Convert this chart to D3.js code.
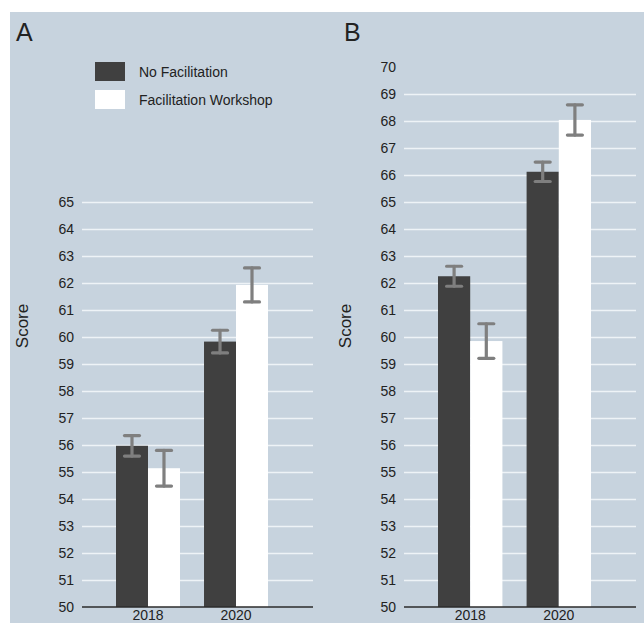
<!DOCTYPE html>
<html>
<head>
<meta charset="utf-8">
<script src="https://cdn.jsdelivr.net/npm/d3@7"></script>
<style>
  body { margin: 0; background: #fff; }
  svg { display: block; font-family: "Liberation Sans", Arial, sans-serif; }
</style>
</head>
<body>
<div id="chart"></div>
<script>
// chart values
var years = ['2018', '2020'];
var groups = ['No Facilitation', 'Facilitation Workshop'];
var groupColors = ['#404040', '#ffffff'];

var aNoFac = [55.97, 59.83];
var aNoFacErr = [0.38, 0.42];
var aWorkshop = [55.14, 61.93];
var aWorkshopErr = [0.66, 0.63];
var aTicks = [50, 51, 52, 53, 54, 55, 56, 57, 58, 59, 60, 61, 62, 63, 64, 65];

var bNoFac = [62.25, 66.12];
var bNoFacErr = [0.37, 0.36];
var bWorkshop = [59.85, 68.04];
var bWorkshopErr = [0.64, 0.56];
var bTicks = [50, 51, 52, 53, 54, 55, 56, 57, 58, 59, 60, 61, 62, 63, 64, 65, 66, 67, 68, 69, 70];

var W = 644, H = 623;
var svg = d3.select('#chart').append('svg')
    .attr('width', W)
    .attr('height', H);

svg.append('rect')
    .attr('x', 10).attr('y', 12)
    .attr('width', W - 10).attr('height', H - 12)
    .attr('fill', '#c7d3de');

function draw_panel(opts) {
    var g = svg.append('g');
    var y = d3.scaleLinear()
        .domain([opts.ticks[0], opts.ticks[opts.ticks.length - 1]])
        .range([607, 607 - 27 * (opts.ticks[opts.ticks.length - 1] - opts.ticks[0])]);
    var x = d3.scaleBand()
        .domain(years)
        .range([opts.left + 34, opts.right - 45])
        .paddingInner(0.273)
        .paddingOuter(0);
    var x1 = d3.scaleBand()
        .domain(groups)
        .range([0, x.bandwidth()]);

    // y axis with gridlines
    var yAxis = d3.axisLeft(y)
        .tickValues(opts.ticks)
        .tickSizeInner(-(opts.right - opts.left))
        .tickSizeOuter(0)
        .tickPadding(8)
        .tickFormat(d3.format('d'));
    var yg = g.append('g')
        .attr('transform', 'translate(' + opts.left + ',0)')
        .call(yAxis);
    yg.select('.domain').remove();
    yg.selectAll('.tick line')
        .attr('stroke', '#eef3f7')
        .attr('stroke-width', 1.6)
        .filter(function (d) { return d === opts.ticks[0] || opts.noGrid.indexOf(d) >= 0; })
        .remove();
    yg.selectAll('.tick text')
        .attr('fill', '#222')
        .style('font-size', '14px');

    // bars
    var series = [
        {vals: opts.noFac, errs: opts.noFacErr, group: groups[0], color: groupColors[0]},
        {vals: opts.workshop, errs: opts.workshopErr, group: groups[1], color: groupColors[1]}
    ];
    var rows = [];
    series.forEach(function (s) {
        years.forEach(function (yr, i) {
            rows.push({year: yr, group: s.group, color: s.color, value: s.vals[i], err: s.errs[i]});
        });
    });

    g.selectAll('.bar')
        .data(rows)
        .enter().append('rect')
        .attr('class', 'bar')
        .attr('x', function (d) { return x(d.year) + x1(d.group); })
        .attr('width', x1.bandwidth())
        .attr('y', function (d) { return y(d.value); })
        .attr('height', function (d) { return y(opts.ticks[0]) - y(d.value); })
        .attr('fill', function (d) { return d.color; });

    // error bars
    var eb = g.selectAll('.err')
        .data(rows)
        .enter().append('g')
        .attr('class', 'err')
        .attr('stroke', '#7f7f7f')
        .attr('stroke-width', 3.2)
        .attr('stroke-linecap', 'round');
    eb.append('line')
        .attr('x1', function (d) { return x(d.year) + x1(d.group) + x1.bandwidth() / 2; })
        .attr('x2', function (d) { return x(d.year) + x1(d.group) + x1.bandwidth() / 2; })
        .attr('y1', function (d) { return y(d.value - d.err); })
        .attr('y2', function (d) { return y(d.value + d.err); });
    [-1, 1].forEach(function (sgn) {
        eb.append('line')
            .attr('x1', function (d) { return x(d.year) + x1(d.group) + x1.bandwidth() / 2 - 7.5; })
            .attr('x2', function (d) { return x(d.year) + x1(d.group) + x1.bandwidth() / 2 + 7.5; })
            .attr('y1', function (d) { return y(d.value + sgn * d.err); })
            .attr('y2', function (d) { return y(d.value + sgn * d.err); });
    });

    // x axis
    var xAxis = d3.axisBottom(x).tickSize(0).tickPadding(3);
    var xg = g.append('g')
        .attr('transform', 'translate(0,' + y(opts.ticks[0]) + ')')
        .call(xAxis);
    xg.select('.domain').remove();
    xg.selectAll('.tick text')
        .attr('fill', '#222')
        .style('font-size', '14px');
    g.append('line')
        .attr('x1', opts.left).attr('x2', opts.right)
        .attr('y1', y(opts.ticks[0])).attr('y2', y(opts.ticks[0]))
        .attr('stroke', '#2b2b2b')
        .attr('stroke-width', 1.5);

    // axis title
    g.append('text')
        .attr('transform', 'translate(' + opts.titleX + ',326) rotate(-90)')
        .attr('text-anchor', 'middle')
        .attr('dy', '0.35em')
        .attr('fill', '#222')
        .style('font-size', '17px')
        .text('Score');

    // panel letter
    g.append('text')
        .attr('x', opts.letterX)
        .attr('y', 41)
        .attr('fill', '#222')
        .style('font-size', '25px')
        .text(opts.letter);
}

draw_panel({
    letter: 'A', letterX: 16, titleX: 22,
    left: 82, right: 313,
    ticks: aTicks, noGrid: [],
    noFac: aNoFac, noFacErr: aNoFacErr,
    workshop: aWorkshop, workshopErr: aWorkshopErr
});

draw_panel({
    letter: 'B', letterX: 344, titleX: 345,
    left: 404, right: 636,
    ticks: bTicks, noGrid: [70],
    noFac: bNoFac, noFacErr: bNoFacErr,
    workshop: bWorkshop, workshopErr: bWorkshopErr
});

// legend
var legend = svg.append('g');
groups.forEach(function (name, i) {
    legend.append('rect')
        .attr('x', 95).attr('y', 62 + i * 28)
        .attr('width', 30).attr('height', 19)
        .attr('fill', groupColors[i]);
    legend.append('text')
        .attr('x', 139).attr('y', 72 + i * 28)
        .attr('dy', '0.35em')
        .attr('fill', '#222')
        .style('font-size', '14px')
        .text(name);
});
</script>
</body>
</html>
